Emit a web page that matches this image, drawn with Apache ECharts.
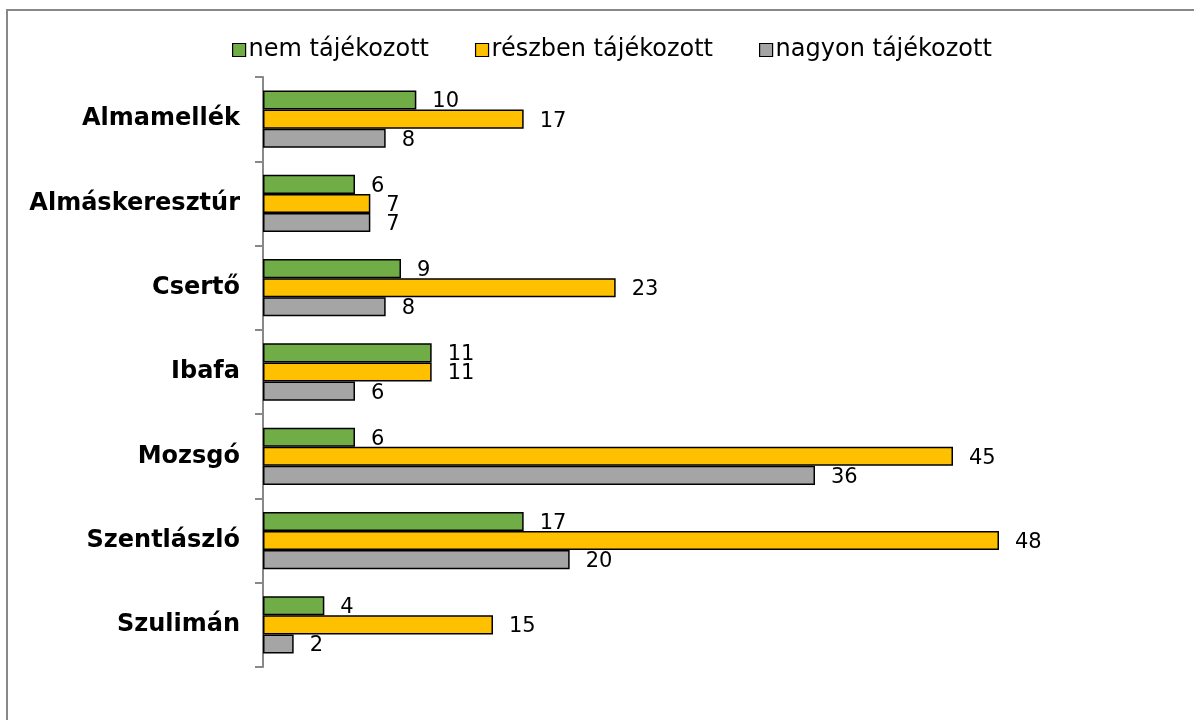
<!DOCTYPE html>
<html>
<head>
<meta charset="utf-8">
<script src="https://cdn.jsdelivr.net/npm/echarts@6/dist/echarts.min.js"></script>
<style>
  html, body { margin: 0; padding: 0; background: #fff; }
  #main { width: 1194px; height: 720px; }
</style>
</head>
<body>
<div id="main"></div>
<script>
var telepulesek = ["Almamellék", "Almáskeresztúr", "Csertő", "Ibafa", "Mozsgó", "Szentlászló", "Szulimán"];
var sorozatNevek = ["nem tájékozott", "részben tájékozott", "nagyon tájékozott"];
var nemTajekozott = [10, 6, 9, 11, 6, 17, 4];
var reszbenTajekozott = [17, 7, 23, 11, 45, 48, 15];
var nagyonTajekozott = [8, 7, 8, 6, 36, 20, 2];
var szinek = ["#70AD47", "#FFC000", "#A5A5A5"];

var chart = echarts.init(document.getElementById("main"));
var betu = "DejaVu Sans, Verdana, sans-serif";

function sorozat(nev, adat, szin) {
    return {
        name: nev,
        type: "bar",
        data: adat,
        barGap: "0%",
        barCategoryGap: "32%",
        itemStyle: { color: szin, borderColor: "#000", borderWidth: 1.5 },
        label: {
            show: true,
            position: "right",
            distance: 16,
            offset: [0, 2],
            color: "#000",
            fontSize: 21,
            fontFamily: betu
        },
        emphasis: { disabled: true }
    };
}

var option = {
    animation: false,
    backgroundColor: "#fff",
    graphic: [{
        type: "rect",
        shape: { x: 7, y: 10, width: 1300, height: 800 },
        style: { fill: "none", stroke: "#888", lineWidth: 2 },
        silent: true
    }],
    legend: {
        top: 33,
        left: 227,
        itemWidth: 13,
        itemHeight: 13,
        itemGap: 46,
        icon: "rect",
        itemStyle: { borderColor: "#000", borderWidth: 1.2 },
        textStyle: { fontSize: 24, fontFamily: betu, color: "#000", padding: [0, 0, 0, -2] },
        data: sorozatNevek
    },
    grid: { left: 263, right: 195, top: 77, bottom: 53, containLabel: false },
    xAxis: {
        type: "value",
        min: 0,
        max: 48,
        show: false
    },
    yAxis: {
        type: "category",
        inverse: true,
        data: telepulesek,
        axisLine: { lineStyle: { color: "#888", width: 2 } },
        axisTick: { show: true, length: 8, inside: false, lineStyle: { color: "#888", width: 2 } },
        axisLabel: {
            margin: 23,
            fontSize: 24,
            fontWeight: "bold",
            fontFamily: betu,
            color: "#000"
        }
    },
    series: [
        sorozat(sorozatNevek[0], nemTajekozott, szinek[0]),
        sorozat(sorozatNevek[1], reszbenTajekozott, szinek[1]),
        sorozat(sorozatNevek[2], nagyonTajekozott, szinek[2])
    ]
};
chart.setOption(option);
</script>
</body>
</html>
